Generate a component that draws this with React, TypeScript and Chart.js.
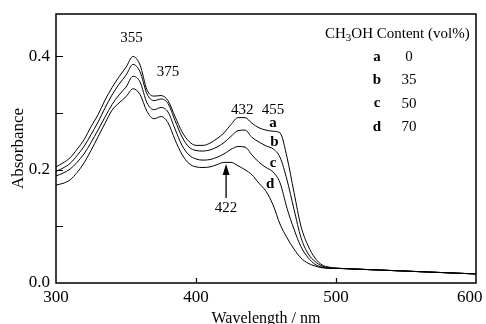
import React, { useEffect, useRef } from 'react';
import { Chart, registerables } from 'chart.js';

Chart.register(...registerables);

// ---------- data ----------
const WAVELENGTH = [
  300, 305, 310, 315, 320, 325, 330, 335, 340, 345, 350, 355, 360, 365, 370, 375, 380, 385, 390, 395,
  400, 405, 410, 415, 420, 425, 430, 435, 440, 445, 450, 455, 460, 465, 470, 475, 480, 485, 490, 495,
  500, 510, 520, 530, 540, 550, 560, 570, 580, 590, 600,
];

const TAIL = [0.026, 0.025, 0.024, 0.023, 0.022, 0.021, 0.020, 0.019, 0.018, 0.017, 0.016];

const CURVE_A = [
  0.205, 0.212, 0.221, 0.236, 0.253, 0.276, 0.297, 0.323, 0.345, 0.364, 0.381, 0.400, 0.385, 0.341, 0.330, 0.331, 0.322, 0.294, 0.267, 0.250,
  0.243, 0.243, 0.247, 0.255, 0.265, 0.280, 0.292, 0.292, 0.282, 0.274, 0.270, 0.268, 0.265, 0.222, 0.160, 0.100, 0.066, 0.044, 0.032, 0.028,
  ...TAIL,
];
const CURVE_B = [
  0.197, 0.203, 0.211, 0.225, 0.241, 0.262, 0.284, 0.309, 0.332, 0.351, 0.367, 0.386, 0.373, 0.334, 0.322, 0.325, 0.317, 0.287, 0.258, 0.240,
  0.234, 0.233, 0.235, 0.240, 0.248, 0.259, 0.269, 0.270, 0.257, 0.249, 0.242, 0.237, 0.222, 0.182, 0.130, 0.080, 0.052, 0.038, 0.030, 0.027,
  ...TAIL,
];
const CURVE_C = [
  0.189, 0.194, 0.201, 0.213, 0.228, 0.248, 0.270, 0.293, 0.315, 0.332, 0.346, 0.365, 0.355, 0.318, 0.306, 0.310, 0.302, 0.272, 0.243, 0.226,
  0.219, 0.217, 0.218, 0.222, 0.228, 0.236, 0.241, 0.240, 0.226, 0.213, 0.204, 0.196, 0.177, 0.132, 0.095, 0.064, 0.045, 0.033, 0.028, 0.026,
  ...TAIL,
];
const CURVE_D = [
  0.173, 0.176, 0.182, 0.195, 0.212, 0.234, 0.258, 0.282, 0.305, 0.318, 0.329, 0.343, 0.333, 0.303, 0.290, 0.294, 0.283, 0.253, 0.227, 0.211,
  0.205, 0.204, 0.205, 0.209, 0.213, 0.213, 0.207, 0.200, 0.191, 0.176, 0.162, 0.138, 0.104, 0.080, 0.060, 0.044, 0.035, 0.030, 0.027, 0.026,
  ...TAIL,
];

const SERIES = [CURVE_A, CURVE_B, CURVE_C, CURVE_D];
const CURVE_NAMES = ['a', 'b', 'c', 'd'];
const METHANOL_CONTENT = ['0', '35', '50', '70'];

const X_TICKS = [300, 400, 500, 600];
const X_TICK_MARKS = [400, 500];
const Y_TICKS = [0, 0.1, 0.2, 0.3, 0.4];
const Y_LABELED = [0, 0.2, 0.4];
const Y_TICK_MARKS = [0.1, 0.2, 0.3, 0.4];

// peak annotations (data coordinates)
const PEAK_LABELS = ['355', '375', '432', '455', '422'];
const PEAK_X = [354, 380, 433, 455, 421.5];
const PEAK_Y = [0.432, 0.372, 0.306, 0.306, 0.133];
const CURVE_LABEL_X = [455, 456, 455, 453];
const CURVE_LABEL_Y = [0.283, 0.248, 0.212, 0.175];
const ARROW_X = 421.5;
const ARROW_FROM = 0.15;
const ARROW_TO = 0.21;

const SERIF = '"Liberation Serif", "Times New Roman", serif';

const overlayPlugin = {
  id: 'overlay',
  afterDatasetsDraw(chart: any) {
    const { ctx, chartArea: ca, scales } = chart;
    const x = scales.x;
    const y = scales.y;
    ctx.save();
    ctx.strokeStyle = '#000';
    ctx.fillStyle = '#000';

    // frame
    ctx.lineWidth = 1.5;
    ctx.strokeRect(ca.left, ca.top, ca.right - ca.left, ca.bottom - ca.top);

    // inward ticks
    ctx.lineWidth = 1.2;
    ctx.beginPath();
    Y_TICK_MARKS.forEach((v) => {
      const py = Math.round(y.getPixelForValue(v)) + 0.5;
      ctx.moveTo(ca.left, py);
      ctx.lineTo(ca.left + 7, py);
    });
    X_TICK_MARKS.forEach((v) => {
      const px = Math.round(x.getPixelForValue(v)) + 0.5;
      ctx.moveTo(px, ca.bottom);
      ctx.lineTo(px, ca.bottom - 5);
    });
    ctx.stroke();

    // peak labels
    ctx.font = `15px ${SERIF}`;
    ctx.textAlign = 'center';
    ctx.textBaseline = 'middle';
    PEAK_LABELS.forEach((t, i) => {
      ctx.fillText(t, x.getPixelForValue(PEAK_X[i]), y.getPixelForValue(PEAK_Y[i]));
    });

    // arrow at 422
    const ax = x.getPixelForValue(ARROW_X);
    const ay0 = y.getPixelForValue(ARROW_FROM);
    const ay1 = y.getPixelForValue(ARROW_TO);
    ctx.lineWidth = 1.3;
    ctx.beginPath();
    ctx.moveTo(ax, ay0);
    ctx.lineTo(ax, ay1 + 6);
    ctx.stroke();
    ctx.beginPath();
    ctx.moveTo(ax, ay1);
    ctx.lineTo(ax - 3.5, ay1 + 11);
    ctx.lineTo(ax + 3.5, ay1 + 11);
    ctx.closePath();
    ctx.fill();

    // curve letters
    ctx.font = `bold 15px ${SERIF}`;
    CURVE_NAMES.forEach((t, i) => {
      ctx.fillText(t, x.getPixelForValue(CURVE_LABEL_X[i]), y.getPixelForValue(CURVE_LABEL_Y[i]));
    });

    // legend block
    const tx = ca.right - 151;
    const ty = ca.top + 20;
    ctx.textAlign = 'left';
    ctx.font = `15px ${SERIF}`;
    ctx.fillText('CH', tx, ty);
    let cx = tx + ctx.measureText('CH').width;
    ctx.font = `11px ${SERIF}`;
    ctx.fillText('3', cx, ty + 4);
    cx += ctx.measureText('3').width;
    ctx.font = `15px ${SERIF}`;
    ctx.fillText('OH Content (vol%)', cx, ty);

    ctx.textAlign = 'center';
    CURVE_NAMES.forEach((t, i) => {
      const ry = ca.top + 43 + i * 23.3;
      ctx.font = `bold 15px ${SERIF}`;
      ctx.fillText(t, ca.right - 99, ry);
      ctx.font = `15px ${SERIF}`;
      ctx.fillText(METHANOL_CONTENT[i], ca.right - 67, ry);
    });

    ctx.restore();
  },
};

export default function App() {
  const canvasRef = useRef<HTMLCanvasElement | null>(null);

  useEffect(() => {
    document.body.style.margin = '0';
    const canvas = canvasRef.current;
    if (!canvas) return;

    const chart = new Chart(canvas, {
      type: 'line',
      data: {
        datasets: SERIES.map((s, i) => ({
          label: CURVE_NAMES[i],
          data: WAVELENGTH.map((w, j) => ({ x: w, y: s[j] })),
          borderColor: '#000',
          borderWidth: 1,
          pointRadius: 0,
          fill: false,
          cubicInterpolationMode: 'monotone' as const,
        })),
      },
      options: {
        animation: false,
        responsive: false,
        maintainAspectRatio: false,
        layout: { padding: { top: 14, right: 10, left: 0, bottom: 0 } },
        plugins: {
          legend: { display: false },
          tooltip: { enabled: false },
        },
        scales: {
          x: {
            type: 'linear',
            min: 300,
            max: 600,
            grid: { display: false, drawTicks: false },
            border: { display: false },
            afterBuildTicks: (s: any) => {
              s.ticks = X_TICKS.map((v) => ({ value: v }));
            },
            afterFit: (s: any) => {
              s.height = 41;
              s.paddingLeft = 0;
              s.paddingRight = 0;
            },
            ticks: {
              padding: 4,
              color: '#000',
              font: { family: SERIF, size: 17 },
              maxRotation: 0,
              autoSkip: false,
              // the last label sits inside the window edge, as in the original
              callback: (v: any) => (Number(v) === 600 ? '600\u00a0\u00a0\u00a0' : String(v)),
            },
            title: {
              display: true,
              text: 'Wavelength / nm',
              color: '#000',
              font: { family: SERIF, size: 16 },
              padding: { top: 0, bottom: -4 },
            },
          },
          y: {
            type: 'linear',
            min: 0,
            max: 0.475,
            grid: { display: false, drawTicks: false },
            border: { display: false },
            afterBuildTicks: (s: any) => {
              s.ticks = Y_TICKS.map((v) => ({ value: v }));
            },
            afterFit: (s: any) => {
              s.width = 56;
              s.paddingTop = 0;
              s.paddingBottom = 0;
            },
            ticks: {
              padding: 6,
              color: '#000',
              font: { family: SERIF, size: 17 },
              autoSkip: false,
              callback: (v: any) =>
                Y_LABELED.some((l) => Math.abs(l - Number(v)) < 1e-6) ? Number(v).toFixed(1) : '',
            },
            title: {
              display: true,
              text: 'Absorbance',
              color: '#000',
              font: { family: SERIF, size: 17 },
              padding: { top: 8, bottom: 0 },
            },
          },
        },
      },
      plugins: [overlayPlugin],
    });

    return () => chart.destroy();
  }, []);

  return (
    <div style={{ width: 486, height: 324, position: 'relative', background: '#fff' }}>
      <canvas ref={canvasRef} width={486} height={324} style={{ display: 'block' }} />
    </div>
  );
}
